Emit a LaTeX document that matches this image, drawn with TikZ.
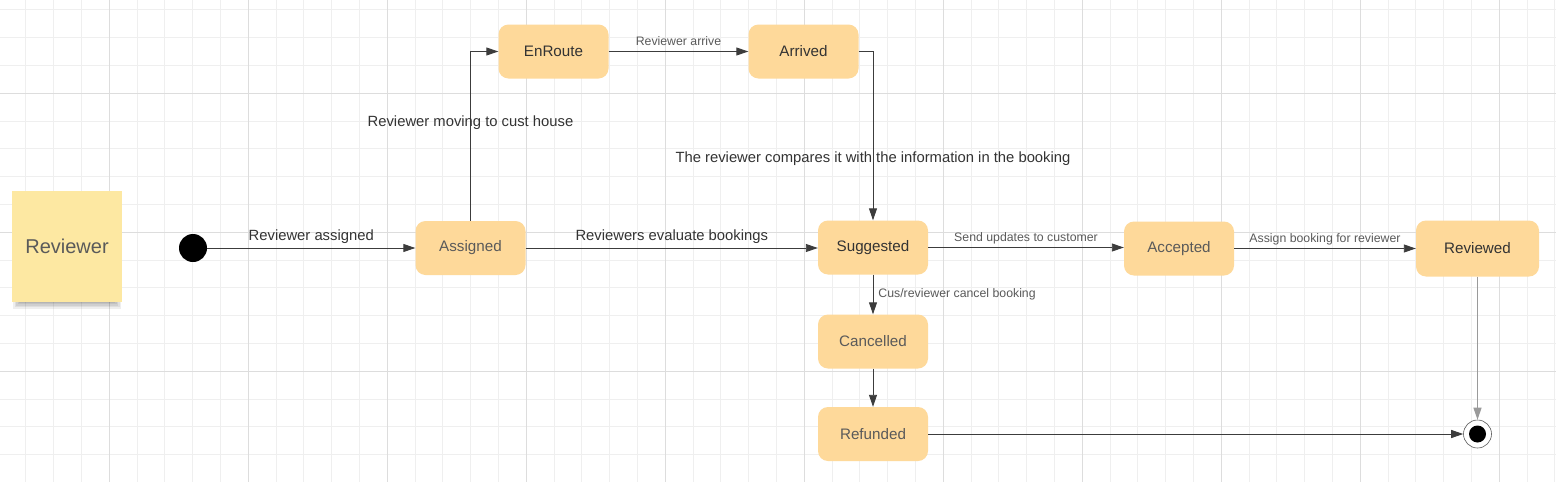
\documentclass[tikz,border=0pt]{standalone}
\usepackage{fontspec}
\setmainfont{Liberation Sans}
\usetikzlibrary{arrows.meta}
\definecolor{gridminor}{HTML}{EFEFEF}
\definecolor{gridmajor}{HTML}{DDDDDD}
\definecolor{statefill}{HTML}{FED99A}
\definecolor{stickyfill}{HTML}{FDE8A2}
\definecolor{darktext}{HTML}{333333}
\definecolor{greytext}{HTML}{5A5A5A}
\definecolor{linecol}{HTML}{3C3C3C}
\definecolor{lightline}{HTML}{9A9A9A}
\tikzset{
  statebox/.style={rectangle, rounded corners=10pt, fill=statefill, draw=none,
    minimum width=110pt, minimum height=54pt, inner sep=0pt,
    font=\fontsize{15.2}{17}\selectfont},
  dark/.style={text=darktext},
  grey/.style={text=greytext},
  arr/.style={draw=linecol, line width=0.9pt, -{Triangle[length=12pt,width=8pt]}},
  biglabel/.style={text=darktext, font=\fontsize{14.8}{16}\selectfont, inner sep=0pt},
  smalllabel/.style={text=greytext, font=\fontsize{12.3}{13}\selectfont, inner sep=0pt},
  flat/.style={text depth=0pt},
}
\begin{document}
\begin{tikzpicture}[x=1pt,y=-1pt]
\useasboundingbox (0,0) rectangle (1556,482);
\fill[white] (0,0) rectangle (1556,482);
% grid
\foreach \i in {0,...,57} {
  \draw[gridminor, line width=0.9pt] ({-1.9+27.8*\i},0) -- ({-1.9+27.8*\i},482);
}
\foreach \j in {0,...,17} {
  \draw[gridminor, line width=0.9pt] (0,{9.9+27.8*\j}) -- (1556,{9.9+27.8*\j});
}
\foreach \i in {0,...,10} {
  \draw[gridmajor, line width=0.9pt] ({109.3+139*\i},0) -- ({109.3+139*\i},482);
}
\foreach \j in {0,1,2} {
  \draw[gridmajor, line width=0.9pt] (0,{93.3+139*\j}) -- (1556,{93.3+139*\j});
}
% sticky note shadow (soft)
\foreach \k in {0,1,2,3,4} {
  \fill[black, opacity=0.065] ({13+1.5*\k},296) rectangle ({121-1.5*\k},{309-1.6*\k});
}
% sticky note
\node[fill=stickyfill, minimum width=110pt, minimum height=111pt, inner sep=0pt,
  text=greytext, font=\fontsize{20}{22}\selectfont] (sticky) at (67,246.5) {Reviewer};
% states
\node[circle, fill=black, minimum size=28pt, inner sep=0pt] (init) at (193,248) {};
\node[statebox, grey] (assigned) at (470.5,248) {Assigned};
\node[statebox, dark] (enroute) at (553.5,51.5) {EnRoute};
\node[statebox, dark] (arrived) at (803.5,51.5) {Arrived};
\node[statebox, dark] (suggested) at (873,247.5) {Suggested};
\node[statebox, grey] (accepted) at (1179,248.5) {Accepted};
\node[statebox, dark, minimum width=123pt, minimum height=56pt] (reviewed) at (1477.5,248.5) {Reviewed};
\node[statebox, grey] (cancelled) at (873,341.5) {Cancelled};
\node[statebox, grey] (refunded) at (873,434) {Refunded};
\node[circle, draw=greytext, line width=0.6pt, fill=white, minimum size=28pt, inner sep=0pt] (final) at (1477.5,434) {};
\node[circle, fill=black, minimum size=17pt, inner sep=0pt] (finaldot) at (final.center) {};
% transitions
\draw[arr] (init) -- (assigned) node[midway, biglabel, flat, above=7.5pt] {Reviewer assigned};
\draw[arr] (assigned.north) |- (enroute.west) node[pos=0.289, biglabel] {Reviewer moving to cust house};
\draw[arr] (enroute) -- (arrived) node[midway, smalllabel, flat, above=5.5pt] {Reviewer arrive};
\draw[arr] (arrived.east) -| (suggested.north) node[pos=0.817, biglabel] {The reviewer compares it with the information in the booking};
\draw[arr] (assigned) -- (suggested.west |- assigned) node[midway, biglabel, flat, above=7.5pt] {Reviewers evaluate bookings};
\draw[arr] (suggested) -- (accepted.west |- suggested) node[midway, smalllabel, flat, above=5.5pt] {Send updates to customer};
\draw[arr] (accepted) -- (reviewed.west |- accepted) node[midway, smalllabel, flat, above=5.5pt] {Assign booking for reviewer};
\draw[arr] (suggested) -- (cancelled) node[midway, smalllabel, right=5pt] {Cus/reviewer cancel booking};
\draw[arr] (cancelled) -- (refunded);
\draw[arr] (refunded) -- (final);
\draw[arr, draw=lightline, line width=1.2pt] (reviewed) -- (final);
\end{tikzpicture}
\end{document}
